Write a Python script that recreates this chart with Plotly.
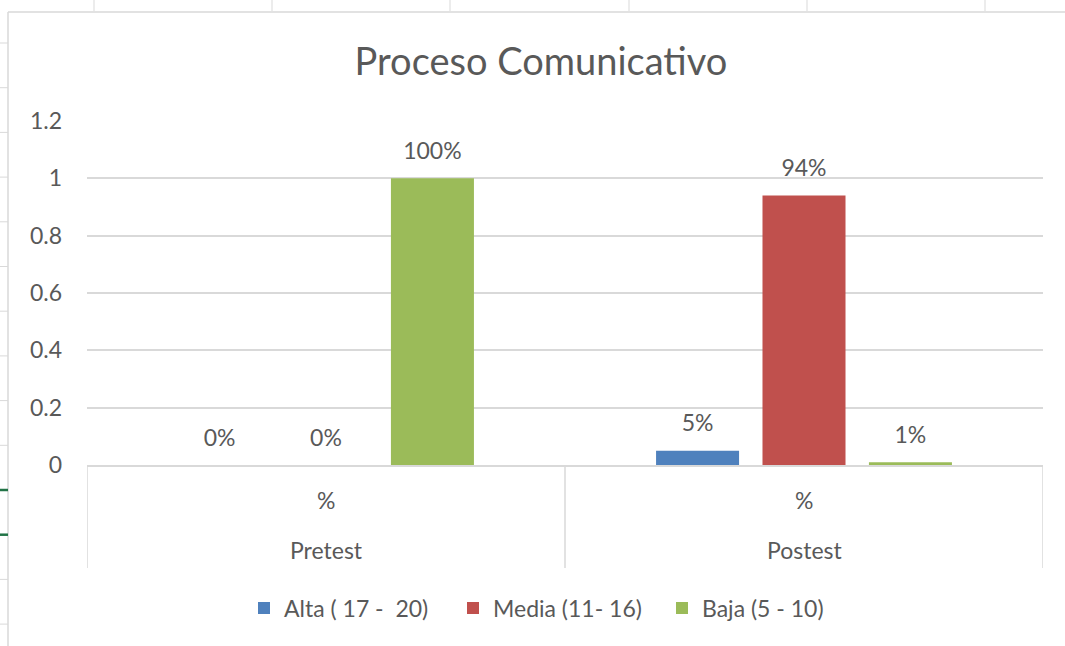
import plotly.graph_objects as go

groups = ["Pretest", "Postest"]
sublabels = ["%", "%"]
series_names = ["Alta ( 17 -  20)", "Media (11- 16)", "Baja (5 - 10)"]
alta = [0.0, 0.05]
media = [0.0, 0.94]
baja = [1.0, 0.01]
colors = ["#4F81BD", "#C0504D", "#9BBB59"]
y_ticks = [0, 0.2, 0.4, 0.6, 0.8, 1, 1.2]
title_text = "Proceso Comunicativo"

FONT = "Lato"
TXT = "#595959"
GRID = "#D9D9D9"
FS = 23

W, H = 1065, 646
L, R, T, B = 87, 22, 121, 181
PW, PH = W - L - R, H - T - B

fig = go.Figure()
for i, (name, vals, col) in enumerate(zip(series_names, [alta, media, baja], colors)):
    fig.add_trace(go.Bar(
        x=groups, y=vals, name=name, offsetgroup=str(i),
        marker=dict(color=col, line=dict(width=0)),
        hoverinfo="skip",
    ))
for i, vals in enumerate([alta, media, baja]):
    fig.add_trace(go.Scatter(
        x=groups, y=vals, mode="markers+text", offsetgroup=str(i),
        marker=dict(size=20, opacity=0), showlegend=False,
        texttemplate="%{y:.0%}", textposition="top center",
        textfont=dict(family=FONT, size=FS, color=TXT),
        cliponaxis=False, hoverinfo="skip",
    ))

def px_x(xp):
    return (xp - L) / PW

def px_y(yp):
    return (H - B - yp) / PH

shapes = []
# spreadsheet frame and cell ticks behind the chart
shapes.append(dict(type="line", xref="paper", yref="paper", x0=px_x(8), x1=px_x(W),
                   y0=px_y(12), y1=px_y(12), line=dict(color=GRID, width=1.5)))
shapes.append(dict(type="line", xref="paper", yref="paper", x0=px_x(8), x1=px_x(8),
                   y0=px_y(12), y1=px_y(H), line=dict(color=GRID, width=1.5)))
for xp in [94, 272, 450, 629, 807, 985]:
    shapes.append(dict(type="line", xref="paper", yref="paper", x0=px_x(xp), x1=px_x(xp),
                       y0=px_y(0), y1=px_y(11), line=dict(color=GRID, width=1)))
for k in range(14):
    yp = 43 + 44.7 * k
    green = k in (10, 11)
    shapes.append(dict(type="line", xref="paper", yref="paper", x0=px_x(0), x1=px_x(8),
                       y0=px_y(yp), y1=px_y(yp),
                       line=dict(color="#217346" if green else GRID, width=2.5 if green else 1)))
# category dividers
for xd in [-0.5, 0.5, 1.5]:
    shapes.append(dict(type="line", xref="x", yref="paper", x0=xd, x1=xd,
                       y0=0, y1=-103 / PH, line=dict(color=GRID, width=1.5)))

annotations = []
for g, s in zip(groups, sublabels):
    annotations.append(dict(x=g, y=-35 / PH, xref="x", yref="paper", text=s, showarrow=False,
                            yanchor="middle", font=dict(family=FONT, size=FS, color=TXT)))
    annotations.append(dict(x=g, y=-85 / PH, xref="x", yref="paper", text=g, showarrow=False,
                            yanchor="middle", font=dict(family=FONT, size=FS, color=TXT)))

fig.update_layout(
    width=W, height=H,
    margin=dict(l=L, r=R, t=T, b=B),
    paper_bgcolor="white", plot_bgcolor="white",
    font=dict(family=FONT, color=TXT, size=FS),
    title=dict(text=title_text, x=541 / W, xanchor="center", y=1 - 62 / H, yanchor="middle",
               font=dict(family=FONT, size=38, color=TXT)),
    barmode="group", bargap=0.332, bargroupgap=0.22,
    scattermode="group", scattergap=0.332,
    showlegend=True,
    legend=dict(orientation="h", x=px_x(244), xanchor="left", y=-143 / PH, yanchor="middle",
                font=dict(family=FONT, size=FS, color=TXT), itemwidth=30,
                entrywidth=164, entrywidthmode="pixels",
                traceorder="normal"),
    xaxis=dict(type="category", showline=True, linecolor=GRID, linewidth=1.5,
               showticklabels=False, ticks="", showgrid=False, range=[-0.5, 1.5]),
    yaxis=dict(range=[0, 1.2], tickvals=y_ticks, showgrid=True, gridcolor=GRID, gridwidth=1.5,
               zeroline=False, showline=False, ticklabelstandoff=24,
               tickfont=dict(family=FONT, size=FS, color=TXT)),
    shapes=shapes,
    annotations=annotations,
)

fig.write_html("out.html", config={"displayModeBar": False},
               post_script="document.body.style.margin='0';")
